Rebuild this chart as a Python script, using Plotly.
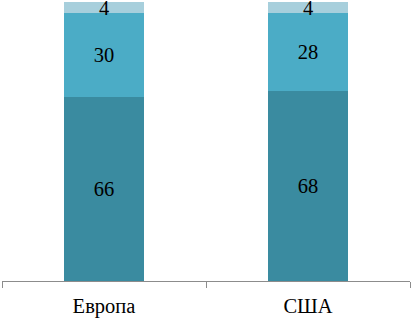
import plotly.graph_objects as go

categories = ["Европа", "США"]
bottom_vals = [66, 68]
middle_vals = [30, 28]
top_vals = [4, 4]

colors = ["#3a8ba0", "#4bacc6", "#a7cfdc"]
font = "Liberation Serif"

fig = go.Figure()
for vals, col in zip([bottom_vals, middle_vals, top_vals], colors):
    fig.add_trace(go.Bar(
        x=categories, y=vals, marker=dict(color=col, line=dict(width=0)),
        text=[str(v) for v in vals], textposition="inside",
        insidetextanchor="middle", constraintext="none", textangle=0,
        textfont=dict(family=font, size=20.5, color="black"),
        width=0.395, hoverinfo="skip", cliponaxis=False,
    ))

fig.update_layout(
    barmode="stack", width=413, height=320,
    margin=dict(l=2, r=3, t=2, b=37),
    paper_bgcolor="white", plot_bgcolor="white",
    showlegend=False,
    xaxis=dict(showline=True, linecolor="#8c8c8c", linewidth=1,
               ticks="outside", tickson="boundaries", ticklen=6,
               tickcolor="#8c8c8c", ticklabelstandoff=6,
               tickfont=dict(family=font, size=20.5, color="black"),
               showgrid=False),
    yaxis=dict(range=[0, 100], visible=False, showgrid=False),
)
fig.write_html("out.html", config={"displayModeBar": False},
               post_script="document.body.style.margin='0';")
